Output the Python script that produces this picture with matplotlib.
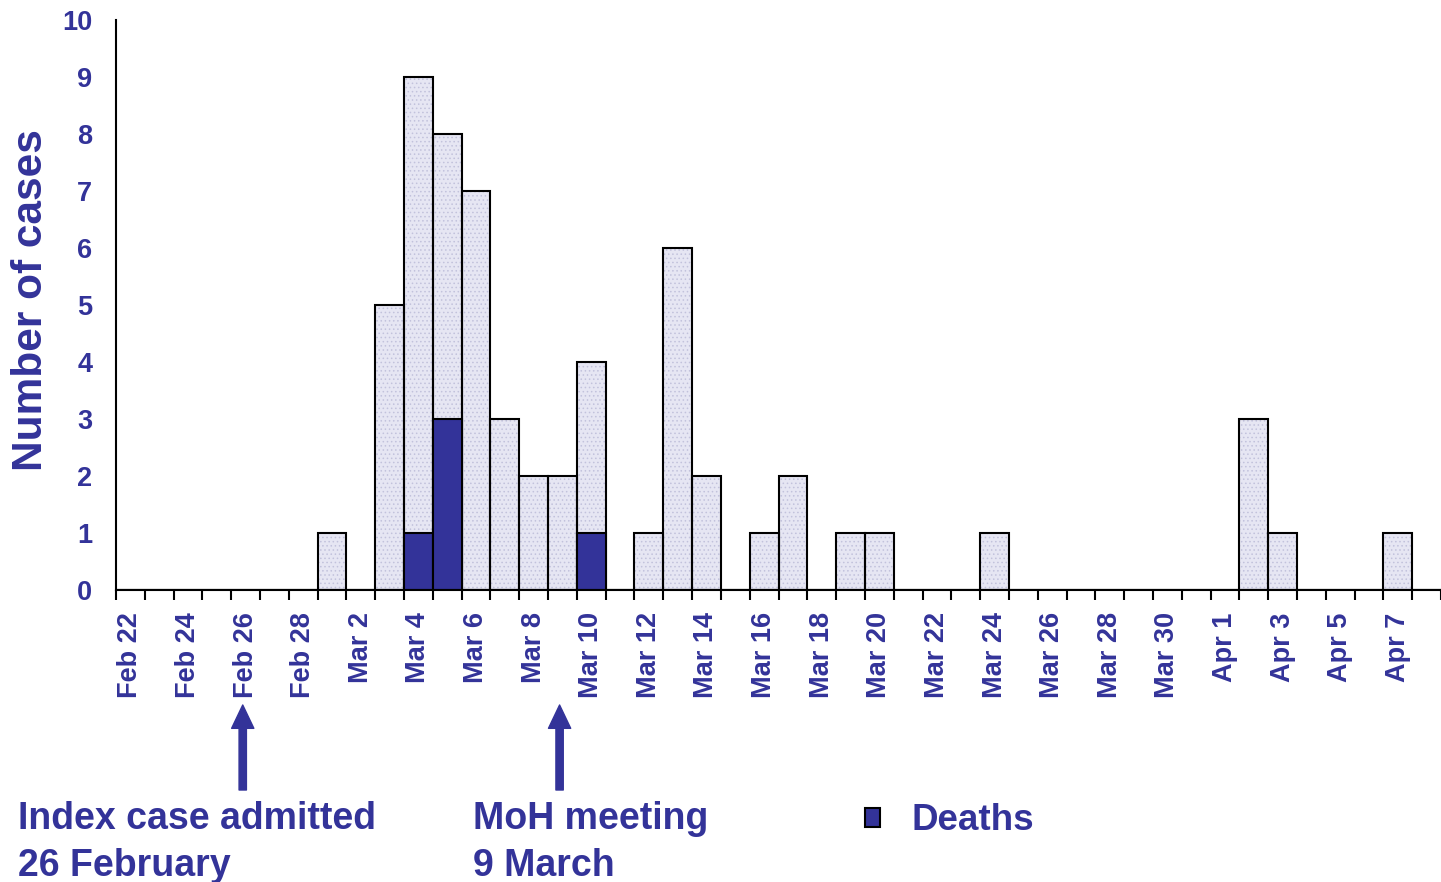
import numpy as np
import pandas as pd
import matplotlib
matplotlib.use("Agg")
import matplotlib.pyplot as plt

# daily onset counts, 22 Feb - 8 Apr 2003
days = pd.date_range("2003-02-22", "2003-04-08", freq="D")
day_labels = [f"{d:%b} {d.day}" for d in days]
cases = [0, 0, 0, 0, 0, 0, 0, 1, 0, 5, 9, 8, 7, 3, 2, 2, 4, 0, 1, 6, 2, 0, 1,
         2, 0, 1, 1, 0, 0, 0, 1, 0, 0, 0, 0, 0, 0, 0, 0, 3, 1, 0, 0, 0, 1, 0]
deaths = [0, 0, 0, 0, 0, 0, 0, 0, 0, 0, 1, 3, 0, 0, 0, 0, 1, 0, 0, 0, 0, 0, 0,
          0, 0, 0, 0, 0, 0, 0, 0, 0, 0, 0, 0, 0, 0, 0, 0, 0, 0, 0, 0, 0, 0, 0]
events = [("Feb 26", "Index case admitted", "26 February", 18),
          ("Mar 9", "MoH meeting", "9 March", 473)]

navy = "#333399"
plt.rcParams["font.family"] = ["Liberation Sans", "DejaVu Sans"]
plt.rcParams["font.weight"] = "bold"
plt.rcParams["hatch.linewidth"] = 0.6

W, H = 1441, 882
fig = plt.figure(figsize=(W / 100, H / 100), dpi=100)
ax = fig.add_axes([116 / W, 1 - 590 / H, 1 - 116 / W, (590 - 20) / H])

x = np.arange(len(days))
# stippled light fill, then black outlines, then deaths on top
ax.bar(x, cases, width=1, align="edge", color="#e6e6f3", edgecolor="#c2c2dc",
       hatch="....", lw=0)
ax.bar(x, cases, width=1, align="edge", fill=False, edgecolor="black", lw=1.5)
death_bars = ax.bar(x, deaths, width=1, align="edge", color=navy,
                    edgecolor="black", lw=1.5)

ax.set_xlim(0, 45.7)
ax.set_ylim(0, 10)
ax.set_yticks(range(11))
ax.tick_params(axis="y", length=0, pad=17, labelsize=19.5, labelcolor=navy)

ax.set_xticks(x[::2] + 0.5)
ax.set_xticklabels(day_labels[::2], rotation=90)
ax.set_xticks(np.arange(len(days) + 1), minor=True)
ax.tick_params(axis="x", which="major", length=0, pad=16, labelsize=19.5,
               labelcolor=navy)
ax.tick_params(axis="x", which="minor", length=7, width=1.5, direction="out")

for s in ["top", "right"]:
    ax.spines[s].set_visible(False)
for s in ["left", "bottom"]:
    ax.spines[s].set_linewidth(1.5)

fig.text(31 / W, 1 - 300 / H, "Number of cases", rotation=90, ha="center",
         va="center", fontsize=30.5, color=navy)

for day, line1, line2, tx in events:
    i = day_labels.index(day)
    ax.annotate("", xy=(i + 0.4, 1 - 705 / H), xycoords=("data", "figure fraction"),
                xytext=(i + 0.4, 1 - 790 / H), textcoords=("data", "figure fraction"),
                arrowprops=dict(arrowstyle="simple,head_length=1.05,head_width=1.0,tail_width=0.33",
                                mutation_scale=16, color=navy, shrinkA=0, shrinkB=0),
                annotation_clip=False)
    fig.text(tx / W, 1 - 829 / H, line1, va="baseline", fontsize=27, color=navy)
    fig.text(tx / W, 1 - 876 / H, line2, va="baseline", fontsize=27, color=navy)

fig.legend([death_bars], ["Deaths"], loc="center left",
           bbox_to_anchor=(865 / W, 1 - 821 / H), frameon=False, fontsize=26.5,
           handlelength=0.4, handleheight=0.4, handletextpad=0.85,
           borderpad=0, borderaxespad=0, labelcolor=navy)

fig.savefig("out.png", dpi=100)
